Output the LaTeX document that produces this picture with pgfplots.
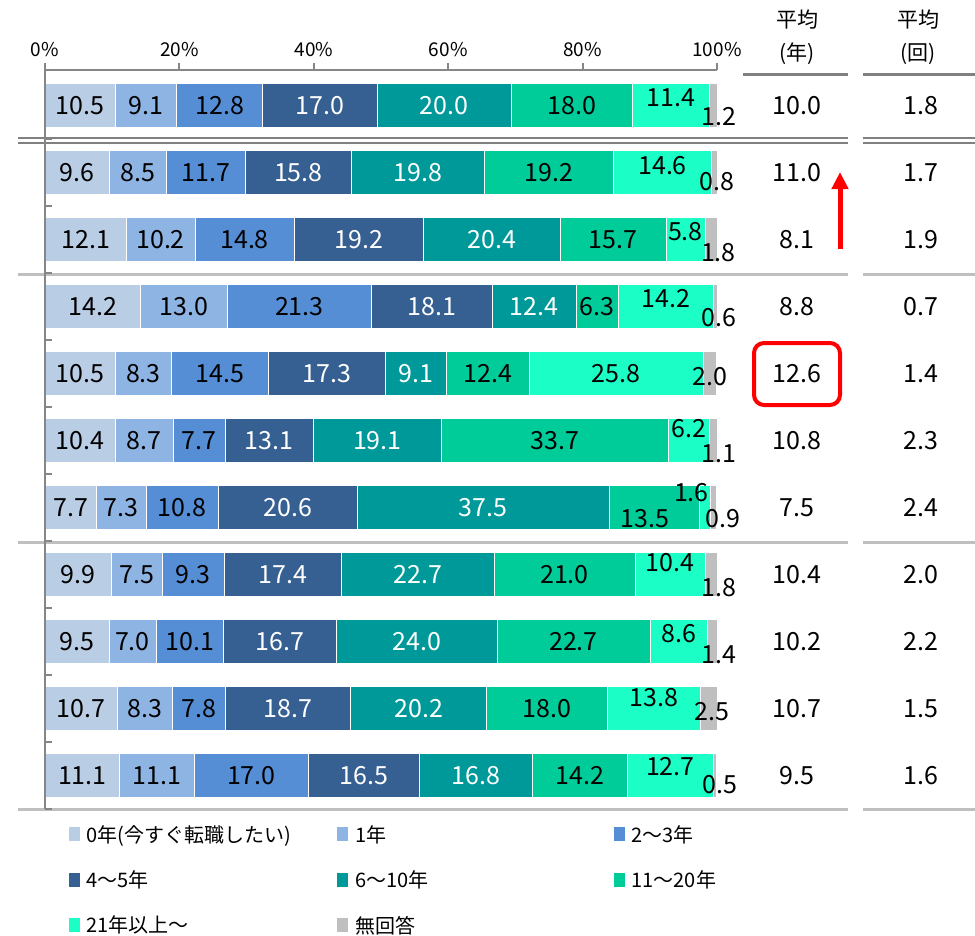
\documentclass[border=0pt]{standalone}
\usepackage{fontspec}
\setmainfont{Noto Sans CJK JP}
\usepackage{pgfplots}
\pgfplotsset{compat=1.18}
\usepackage{pgfplotstable}
\usetikzlibrary{arrows.meta}
\definecolor{c1}{HTML}{B9CDE5}
\definecolor{c2}{HTML}{8EB4E3}
\definecolor{c3}{HTML}{558ED5}
\definecolor{c4}{HTML}{376092}
\definecolor{c5}{HTML}{009999}
\definecolor{c6}{HTML}{00CC99}
\definecolor{c7}{HTML}{1BFFC6}
\definecolor{c8}{HTML}{BFBFBF}
\definecolor{axgray}{HTML}{868686}
\definecolor{sepdark}{HTML}{808080}
\definecolor{seplight}{HTML}{BFBFBF}

\pgfplotstableread{
row a b c d e f g h
1 10.5 9.1 12.8 17.0 20.0 18.0 11.4 1.2
2 9.6 8.5 11.7 15.8 19.8 19.2 14.6 0.8
3 12.1 10.2 14.8 19.2 20.4 15.7 5.8 1.8
4 14.2 13.0 21.3 18.1 12.4 6.3 14.2 0.6
5 10.5 8.3 14.5 17.3 9.1 12.4 25.8 2.0
6 10.4 8.7 7.7 13.1 19.1 33.7 6.2 1.1
7 7.7 7.3 10.8 20.6 37.5 13.5 1.6 0.9
8 9.9 7.5 9.3 17.4 22.7 21.0 10.4 1.8
9 9.5 7.0 10.1 16.7 24.0 22.7 8.6 1.4
10 10.7 8.3 7.8 18.7 20.2 18.0 13.8 2.5
11 11.1 11.1 17.0 16.5 16.8 14.2 12.7 0.5
}\bars

\pgfplotstableread{
x y lab
5.25 1 10.5
15.05 1 9.1
26.0 1 12.8
78.4 1 18.0
93.1 0.89 11.4
100.3 1.17 1.2
4.8 2 9.6
13.85 2 8.5
23.95 2 11.7
75.0 2 19.2
91.9 1.89 14.6
100.0 2.14 0.8
6.05 3 12.1
17.2 3 10.2
29.7 3 14.8
84.55 3 15.7
95.3 2.88 5.8
100.2 3.19 1.8
7.1 4 14.2
20.7 4 13.0
37.85 4 21.3
82.15 4 6.3
92.4 3.88 14.2
100.3 4.17 0.6
5.25 5 10.5
14.65 5 8.3
26.05 5 14.5
65.9 5 12.4
85.0 5 25.8
99.0 5.05 2.0
5.2 6 10.4
14.75 6 8.7
22.95 6 7.7
75.85 6 33.7
95.8 5.82 6.2
100.3 6.2 1.1
3.85 7 7.7
11.35 7 7.3
20.4 7 10.8
89.3 7.17 13.5
96.2 6.77 1.6
100.9 7.17 0.9
4.95 8 9.9
13.65 8 7.5
22.05 8 9.3
77.3 8 21.0
93.0 7.82 10.4
100.3 8.2 1.8
4.75 9 9.5
13.0 9 7.0
21.55 9 10.1
78.65 9 22.7
94.3 8.88 8.6
100.3 9.2 1.4
5.35 10 10.7
14.85 10 8.3
22.9 10 7.8
74.7 10 18.0
90.6 9.83 13.8
99.3 10.05 2.5
5.55 11 11.1
16.65 11 11.1
30.7 11 17.0
79.6 11 14.2
93.05 10.86 12.7
100.4 11.14 0.5
}\blacklabels

\pgfplotstableread{
x y lab
40.9 1 17.0
59.4 1 20.0
37.7 2 15.8
55.5 2 19.8
46.7 3 19.2
66.5 3 20.4
57.55 4 18.1
72.8 4 12.4
41.95 5 17.3
55.15 5 9.1
33.35 6 13.1
49.45 6 19.1
36.1 7 20.6
65.15 7 37.5
35.4 8 17.4
55.45 8 22.7
34.95 9 16.7
55.3 9 24.0
36.15 10 18.7
55.6 10 20.2
47.45 11 16.5
64.1 11 16.8
}\whitelabels

\pgfplotstableread{
row nen kai
1 10.0 1.8
2 11.0 1.7
3 8.1 1.9
4 8.8 0.7
5 12.6 1.4
6 10.8 2.3
7 7.5 2.4
8 10.4 2.0
9 10.2 2.2
10 10.7 1.5
11 9.5 1.6
}\avgs

\newcommand{\lblfont}{\fontsize{25bp}{29bp}\selectfont}

\begin{document}
\begin{tikzpicture}
\useasboundingbox (0bp,0bp) rectangle (975bp,-936bp);

% separators and header rules
\begin{scope}[line width=2bp, draw=sepdark]
\draw (18bp,-138bp) -- (848bp,-138bp);
\draw (18bp,-143bp) -- (848bp,-143bp);
\draw (863bp,-138bp) -- (975bp,-138bp);
\draw (863bp,-143bp) -- (975bp,-143bp);
\end{scope}
\draw[line width=3bp, sepdark] (743bp,-74bp) -- (848bp,-74bp);
\draw[line width=3bp, sepdark] (863bp,-74bp) -- (975bp,-74bp);
\begin{scope}[line width=3bp, draw=seplight]
\foreach \yy in {274.5,542,809} {
  \draw (18bp,-\yy bp) -- (848bp,-\yy bp);
  \draw (863bp,-\yy bp) -- (975bp,-\yy bp);
}
\end{scope}

\node[font=\fontsize{21bp}{24bp}\selectfont] at (797bp,-20bp) {平均};
\node[font=\fontsize{21bp}{24bp}\selectfont] at (797bp,-54bp) {(年)};
\node[font=\fontsize{21bp}{24bp}\selectfont] at (918bp,-20bp) {平均};
\node[font=\fontsize{21bp}{24bp}\selectfont] at (918bp,-54bp) {(回)};

\begin{axis}[
  at={(45bp,-809bp)}, anchor=south west,
  width=672bp, height=739bp, scale only axis,
  xbar stacked, bar width=44.5bp,
  xmin=0, xmax=100, ymin=0.47, ymax=11.5, y dir=reverse,
  axis x line*=top, axis y line=none,
  axis line style={axgray, line width=2bp},
  xtick={0,20,...,100},
  xticklabel={\pgfmathprintnumber{\tick}\%},
  tick align=outside,
  major tick length=7bp,
  tick style={axgray, line width=2bp},
  x tick label style={font=\fontsize{19bp}{22bp}\selectfont, /pgf/number format/assume math mode=true, yshift=3bp},
  clip=false,
  legend columns=3,
  legend style={draw=none, fill=none, inner sep=0pt,
    at={(axis description cs:0.035,-0.019)}, anchor=north west,
    font=\fontsize{20bp}{23bp}\selectfont,
    /tikz/every odd column/.append style={column sep=5bp},
    /tikz/column 2/.style={column sep=44bp},
    /tikz/column 4/.style={column sep=183bp},
    row sep=23bp},
  legend cell align=left,
  legend image code/.code={\fill[#1,draw=none] (0bp,-7bp) rectangle (11bp,7bp);},
]
\addplot[fill=c1, draw=white, line width=0.6bp] table[x=a, y=row] {\bars};
\addplot[fill=c2, draw=white, line width=0.6bp] table[x=b, y=row] {\bars};
\addplot[fill=c3, draw=white, line width=0.6bp] table[x=c, y=row] {\bars};
\addplot[fill=c4, draw=white, line width=0.6bp] table[x=d, y=row] {\bars};
\addplot[fill=c5, draw=white, line width=0.6bp] table[x=e, y=row] {\bars};
\addplot[fill=c6, draw=white, line width=0.6bp] table[x=f, y=row] {\bars};
\addplot[fill=c7, draw=white, line width=0.6bp] table[x=g, y=row] {\bars};
\addplot[fill=c8, draw=white, line width=0.6bp] table[x=h, y=row] {\bars};
\legend{0年(今すぐ転職したい), 1年, 2～3年, 4～5年, 6～10年, 11～20年, 21年以上～, 無回答}
\end{axis}

\begin{axis}[
  at={(45bp,-809bp)}, anchor=south west,
  width=672bp, height=739bp, scale only axis,
  xmin=0, xmax=100, ymin=0.47, ymax=11.5, y dir=reverse,
  hide x axis, axis y line*=left,
  axis line style={axgray, line width=2bp},
  ytick={1.5,2.5,...,11.5}, yticklabels={},
  tick align=inside, major tick length=7bp,
  tick style={axgray, line width=2bp},
  clip=false,
  nodes near coords={\pgfplotspointmeta},
  point meta=explicit symbolic,
]
\addplot[only marks, mark=none, nodes near coords style={anchor=center, font=\lblfont, text=black}] table[x=x, y=y, meta=lab] {\blacklabels};
\addplot[only marks, mark=none, nodes near coords style={anchor=center, font=\lblfont, text=white}] table[x=x, y=y, meta=lab] {\whitelabels};
\addplot[only marks, mark=none, nodes near coords style={anchor=center, font=\lblfont, text=black}] table[x expr=111.9, y=row, meta=nen] {\avgs};
\addplot[only marks, mark=none, nodes near coords style={anchor=center, font=\lblfont, text=black}] table[x expr=130.3, y=row, meta=kai] {\avgs};
\end{axis}

\draw[red, line width=5bp, -{Triangle[width=16bp,length=17bp]}] (840bp,-249bp) -- (840bp,-172bp);
\draw[red, line width=4bp, rounded corners=10bp] (754bp,-343bp) rectangle (840bp,-405bp);
\end{tikzpicture}
\end{document}
